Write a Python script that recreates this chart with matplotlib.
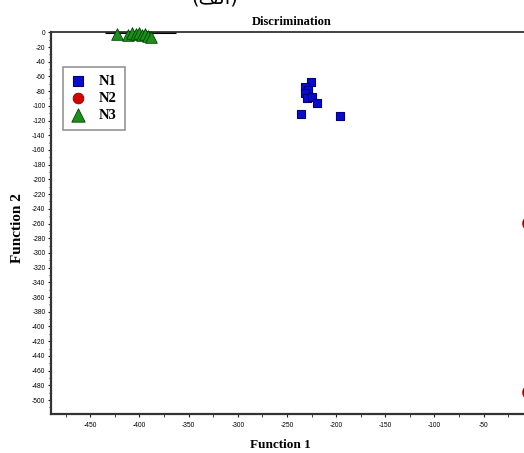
import matplotlib
matplotlib.use("Agg")
import matplotlib.pyplot as plt
import numpy as np

plt.rcParams['axes.unicode_minus'] = False

# ---- data ----
n1_x = [-226, -232, -229, -232, -230, -225, -219, -236, -196]
n1_y = [-68, -74, -79, -83, -89, -88, -96, -111, -114]

n2_x = [-5.5, -5.5, -5.5, -5.5]
n2_y = [-258, -261, -488, -491]

n3_x = [-423, -412, -408, -404, -400, -397, -394, -391, -388]
n3_y = [-2, -3, -1, -2, -1, -3, -2, -5, -6]

line_x = [-435, -363]
line_y = [0, 0]

labels = ["N1", "N2", "N3"]
x_major = list(range(-450, 0, 50))
x_minor = list(range(-475, 0, 50))
y_major = list(range(-500, 1, 20))
y_minor = list(range(-510, 1, 10))

W, H = 524, 453
fig = plt.figure(figsize=(W / 100, H / 100), dpi=100)
AX_L, AX_R, AX_T, AX_B = 51, 532.8, 32.3, 414
AW, AH = AX_R - AX_L, AX_B - AX_T
ax = fig.add_axes([AX_L / W, 1 - AX_B / H, AW / W, AH / H])

ax.plot(line_x, line_y, color="black", lw=2.2, zorder=2, solid_capstyle="butt")
ax.scatter(n1_x, n1_y, marker="s", s=36, facecolor="#0b0bd0", edgecolor="#00007a",
           linewidths=0.8, zorder=3, label=labels[0])
ax.scatter(n2_x, n2_y, marker="o", s=45, facecolor="#d40000", edgecolor="#900000",
           linewidths=0.6, zorder=3, label=labels[1], clip_on=False)
ax.scatter(n3_x, n3_y, marker="^", s=70, facecolor="#1c8f1c", edgecolor="#004400",
           linewidths=0.6, zorder=3, label=labels[2], clip_on=False)

ax.set_xlim(-490, 0)
ax.set_ylim(-519, 0)
ax.set_xticks(x_major)
ax.set_xticks(x_minor, minor=True)
ax.set_yticks(y_major)
ax.set_yticks(y_minor, minor=True)
ax.set_xticklabels([str(v) for v in x_major])
ax.set_yticklabels([str(v) for v in y_major])

for lab in ax.get_xticklabels() + ax.get_yticklabels():
    lab.set_family("Liberation Sans")
    lab.set_fontsize(4.8)

ax.tick_params(axis="both", which="major", direction="out", length=2.5, width=0.8,
               colors="#222222", labelcolor="black", pad=1.5)
ax.tick_params(axis="both", which="minor", direction="out", length=1.8, width=0.6,
               colors="#222222")
ax.tick_params(axis="x", which="major", pad=3)

for side in ["left", "bottom"]:
    ax.spines[side].set_linewidth(1.6)
    ax.spines[side].set_color("#333333")
ax.spines["top"].set_linewidth(1.3)
ax.spines["top"].set_color("#333333")
ax.spines["right"].set_visible(False)

ax.set_title("Discrimination", family="Liberation Serif", fontweight="bold",
             fontsize=9, pad=5)
ax.set_xlabel("Function 1", family="Liberation Serif", fontweight="bold", fontsize=9.5)
ax.xaxis.set_label_coords((280 - AX_L) / AW, -(439.5 - AX_B) / AH)
ax.set_ylabel("Function 2", family="Liberation Serif", fontweight="bold", fontsize=11)
ax.yaxis.set_label_coords(-(AX_L - 24) / AW, 1 - (228 - AX_T) / AH)

leg = ax.legend(loc="upper left",
                bbox_to_anchor=((63 - AX_L) / AW, 1 - (67 - AX_T) / AH),
                borderaxespad=0, fancybox=False, frameon=True, edgecolor="#7a7a7a",
                prop={"family": "Liberation Serif", "weight": "bold", "size": 10.5},
                handlelength=1.0, handletextpad=0.9, labelspacing=0.25, borderpad=0.55,
                markerscale=1.15, scatterpoints=1)
leg.get_frame().set_linewidth(1.2)

fig.text(215 / W, 1 + 2 / H, "(\ufed2\ufedf\ufe8d)", family=["DejaVu Sans"],
         fontsize=14, ha="center", va="center")

fig.savefig("out.png", dpi=100)
